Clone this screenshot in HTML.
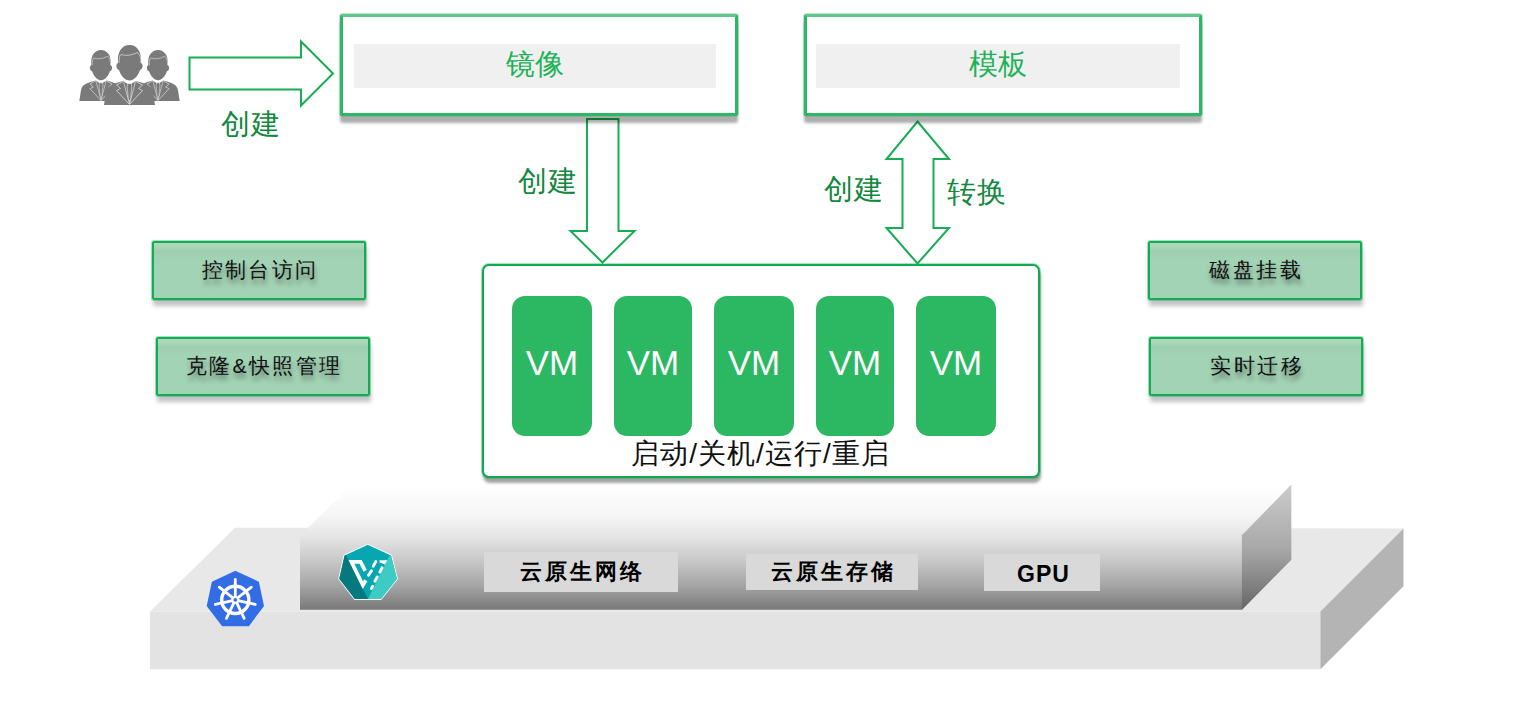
<!DOCTYPE html>
<html><head><meta charset="utf-8">
<style>
html,body{margin:0;padding:0;background:#fff;}
body{width:1516px;height:702px;position:relative;overflow:hidden;font-family:"Liberation Sans",sans-serif;}
.a{position:absolute;}
.topbox{position:absolute;top:14px;width:392px;height:96px;border:3px solid #2db665;border-top:3px solid #5ec88b;border-radius:3px;background:#fff;box-shadow:0 0 0 1px rgba(61,189,116,0.35),0 7px 3px rgba(0,0,0,0.32);}
.bar{position:absolute;top:44px;height:44px;background:#f0f0f0;color:#1db257;font-size:29px;line-height:41px;text-align:center;}
.lbl{position:absolute;color:#12893e;font-size:29px;letter-spacing:1px;line-height:30px;white-space:nowrap;}
.btn{position:absolute;width:210px;height:55px;border:2px solid #12ad52;border-radius:2px;background:linear-gradient(to bottom,#b0dac0 0px,#a8d5b8 5px,#9ccfae 8px,#a3d3b5 16px);box-shadow:0 0 0 1px rgba(18,173,82,0.35),1px 6px 4px rgba(0,0,0,0.24);color:#111;font-size:21px;line-height:54px;text-align:center;letter-spacing:2.4px;text-indent:2.4px;text-shadow:1px 5px 5px rgba(0,0,0,0.4);}
.vm{position:absolute;top:296px;width:80px;height:140px;background:#2cb862;border-radius:13px;color:#fff;font-size:35px;line-height:133px;text-align:center;}
.tag{position:absolute;background:#d9d9d9;color:#000;font-weight:bold;font-size:22px;text-align:center;letter-spacing:3px;text-indent:3px;}
</style></head>
<body>
<svg class="a" style="left:0;top:0" width="1516" height="702" viewBox="0 0 1516 702">
  <defs>
    <linearGradient id="gUp" x1="0" y1="485" x2="0" y2="610" gradientUnits="userSpaceOnUse">
      <stop offset="0" stop-color="#ffffff"/>
      <stop offset="0.24" stop-color="#f6f6f6"/>
      <stop offset="0.41" stop-color="#e5e5e5"/>
      <stop offset="0.6" stop-color="#c9c9c9"/>
      <stop offset="0.8" stop-color="#a6a6a6"/>
      <stop offset="1" stop-color="#787878"/>
    </linearGradient>
    <linearGradient id="gSide" x1="0" y1="485" x2="0" y2="610" gradientUnits="userSpaceOnUse">
      <stop offset="0" stop-color="#cbcbcb"/>
      <stop offset="0.5" stop-color="#a9a9a9"/>
      <stop offset="1" stop-color="#666666"/>
    </linearGradient>
  </defs>
  <!-- lower slab -->
  <polygon points="150,611.5 235,527.7 1403.5,528.4 1320.4,611.6" fill="#e8e8e8"/>
  <rect x="150" y="611.5" width="1170.4" height="57.8" fill="#e3e3e3"/>
  <polygon points="1320.4,611.6 1403.5,528.4 1403.5,586.2 1320.4,669.3" fill="#b4b4b4"/>
  <!-- upper slab -->
  <polygon points="300,536 351,485 1291.3,484.5 1291.3,559.8 1241.9,609.8 300,609.8" fill="url(#gUp)"/>
  <polygon points="1241.9,535.3 1291.3,484.5 1291.3,559.8 1241.9,609.8" fill="url(#gSide)"/>

  <!-- left arrow -->
  <polygon points="189.5,57.5 301,57.5 301,41.5 333,73.5 301,105.5 301,89.5 189.5,89.5" fill="#fff" stroke="#17ad52" stroke-width="2"/>
  <!-- down arrow -->
  <polygon points="587,119 618.5,119 618.5,231 634.5,231 602.5,262.5 570.5,231 587,231" fill="#fff" stroke="#17ad52" stroke-width="2"/>
  <!-- double arrow -->
  <polygon points="917.5,121.5 949,159 933.5,159 933.5,228 949,228 917.5,263.5 886.5,228 902.5,228 902.5,159 886.5,159" fill="#fff" stroke="#17ad52" stroke-width="2"/>
</svg>

<!-- people icon -->
<svg class="a" style="left:75px;top:40px" width="110" height="70" viewBox="0 0 110 70">
  <defs>
    <g id="man">
      <path d="M29,65 L31,52 C32,47 36,45 41,43 L48,41 L54.5,45 L61,41 L68,43 C73,45 77,47 78,52 L80,65 Z" fill="#7a7a7a"/>
      <path d="M44,30 C42,29.5 41,27 41.5,25 C41.8,23.5 43,23 43,22.5 C42,11 47.5,5 54.5,5 C61.5,5 67,11 66,22.5 C66,23 67.2,23.5 67.5,25 C68,27 67,29.5 65,30 C63,36 59,40.5 54.5,40.5 C50,40.5 46,36 44,30 Z" fill="#7a7a7a"/>
      <path d="M44.2,23 C44,18 44.6,15.5 46,14.5 C50,16 57,15.5 62,12.5 C65,14 66,18 65.8,23" fill="none" stroke="#fff" stroke-width="0.55"/>
      <path d="M48,41.5 L41.5,45 L45.5,48.5 L41.5,50.5 L54.5,64.5 L67.5,50.5 L63.5,48.5 L67.5,45 L61,41.5" fill="none" stroke="#fff" stroke-width="0.6" stroke-linejoin="miter"/>
      <path d="M48.5,41.5 L54.5,64 L60.5,41.5" fill="none" stroke="#fff" stroke-width="0.55"/>
      <path d="M53,43.5 L56,43.5 L56.8,46.5 L55.6,59 L54.5,61.5 L53.4,59 L52.2,46.5 Z" fill="#7a7a7a" stroke="#fff" stroke-width="0.5"/>
    </g>
  </defs>
  <use href="#man" transform="translate(26,10) scale(0.85) translate(-54.5,-5)"/>
  <use href="#man" transform="translate(83,10) scale(0.85) translate(-54.5,-5)"/>
  <use href="#man"/>
</svg>

<!-- k8s icon -->
<svg class="a" style="left:200px;top:565px" width="70" height="67" viewBox="0 0 70 67">
  <polygon points="35.30,6.95 57.88,17.38 62.80,40.83 48.23,60.22 22.85,60.22 7.89,40.83 12.82,17.38" fill="#326de6" stroke="#326de6" stroke-width="2.2" stroke-linejoin="round"/>
  <g stroke="#fff" stroke-linecap="round" fill="none">
    <circle cx="35.3" cy="34.9" r="13.6" stroke-width="3.4"/>
    <circle cx="35.3" cy="34.9" r="4" fill="#fff" stroke="none"/>
    <circle cx="35.3" cy="34.9" r="1.8" fill="#326de6" stroke="none"/>
    <g stroke-width="2.8">
      <line x1="35.3" y1="31" x2="35.3" y2="14.4"/>
      <line x1="35.3" y1="31" x2="35.3" y2="14.4" transform="rotate(51.43 35.3 34.9)"/>
      <line x1="35.3" y1="31" x2="35.3" y2="14.4" transform="rotate(102.86 35.3 34.9)"/>
      <line x1="35.3" y1="31" x2="35.3" y2="14.4" transform="rotate(154.29 35.3 34.9)"/>
      <line x1="35.3" y1="31" x2="35.3" y2="14.4" transform="rotate(205.71 35.3 34.9)"/>
      <line x1="35.3" y1="31" x2="35.3" y2="14.4" transform="rotate(257.14 35.3 34.9)"/>
      <line x1="35.3" y1="31" x2="35.3" y2="14.4" transform="rotate(308.57 35.3 34.9)"/>
    </g>
  </g>
</svg>

<!-- V icon -->
<svg class="a" style="left:333px;top:538px" width="70" height="68" viewBox="0 0 70 68">
  <defs><clipPath id="hep"><polygon points="34.8,6.8 58,17.4 63.9,40.7 47.9,61 21.8,61 6.3,40.7 11.6,17.4" stroke-linejoin="round"/></clipPath></defs>
  <polygon points="34.8,6.8 58,17.4 63.9,40.7 47.9,61 21.8,61 6.3,40.7 11.6,17.4" fill="#fff" stroke="#fff" stroke-width="2" stroke-linejoin="round"/>
  <g clip-path="url(#hep)">
    <rect x="0" y="0" width="70" height="68" fill="#07a7b1"/>
    <polygon points="12.5,16 35,61 0,61 0,16" fill="#06797f"/>
    <polygon points="57.2,16 35,61 70,61 70,16" fill="#3ecbc3"/>
  </g>
  <g stroke="#fff" fill="none" stroke-linecap="round">
    <path d="M32.2,32.8 L27.6,23.9 L18.4,23.9 L29.9,47.2 L32.8,42.2" stroke-width="3.7" stroke-linejoin="miter" stroke-linecap="butt"/>
    <line x1="42.8" y1="23.6" x2="40.2" y2="28.2" stroke-width="2.9"/>
    <line x1="38.5" y1="32.9" x2="35.5" y2="37.2" stroke-width="2.9"/>
    <line x1="49" y1="29.8" x2="46.8" y2="34.1" stroke-width="2.9"/>
    <line x1="44.2" y1="38.9" x2="41.9" y2="43.2" stroke-width="2.9"/>
    <line x1="39.6" y1="48.3" x2="38.3" y2="50.6" stroke-width="2.9"/>
  </g>
  <polygon points="46.5,22.2 54.4,22.2 51.9,26.4 48.4,25 46.7,24.7" fill="#fff"/>
</svg>

<div class="topbox" style="left:340px;"></div>
<div class="bar" style="left:354px;width:362px;">镜像</div>
<div class="topbox" style="left:804px;"></div>
<div class="bar" style="left:816px;width:364px;">模板</div>

<div class="lbl" style="left:221px;top:109px;">创建</div>
<div class="lbl" style="left:518px;top:166px;">创建</div>
<div class="lbl" style="left:824px;top:174px;">创建</div>
<div class="lbl" style="left:947px;top:177px;">转换</div>

<div class="btn" style="left:152px;top:241px;">控制台访问</div>
<div class="btn" style="left:156px;top:337px;">克隆&amp;快照管理</div>
<div class="btn" style="left:1148px;top:241px;">磁盘挂载</div>
<div class="btn" style="left:1149px;top:337px;">实时迁移</div>

<!-- VM container -->
<div class="a" style="left:482px;top:264px;width:554px;height:210px;border:2px solid #10a94f;border-radius:7px;background:#fff;box-shadow:0 0 0 1px rgba(16,169,79,0.35),1px 5px 3px rgba(0,0,0,0.36);"></div>
<div class="vm" style="left:512px;">VM</div>
<div class="vm" style="left:614px;width:78px;">VM</div>
<div class="vm" style="left:714px;">VM</div>
<div class="vm" style="left:816px;width:78px;">VM</div>
<div class="vm" style="left:916px;">VM</div>
<div class="a" style="left:600px;top:438px;width:320px;text-align:center;font-size:28px;line-height:32px;color:#111;letter-spacing:1px;text-indent:1px;">启动/关机/运行/重启</div>

<div class="tag" style="left:484px;top:552px;width:194px;height:40px;line-height:40px;">云原生网络</div>
<div class="tag" style="left:746px;top:554px;width:172px;height:36px;line-height:36px;">云原生存储</div>
<div class="tag" style="left:984px;top:554px;width:116px;height:37px;line-height:40px;font-size:23px;letter-spacing:1px;">GPU</div>

</body></html>
